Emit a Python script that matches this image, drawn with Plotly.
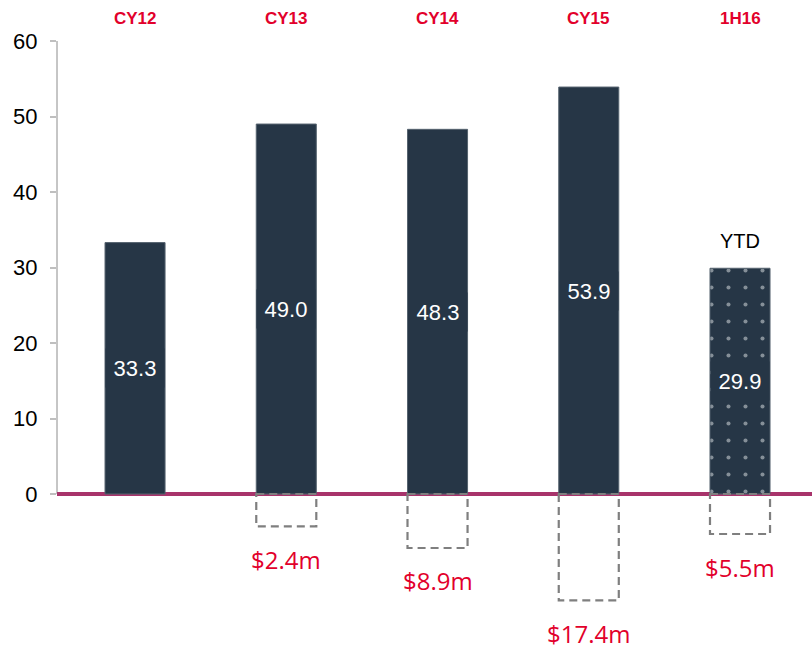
import plotly.graph_objects as go

categories = ["CY12", "CY13", "CY14", "CY15", "1H16"]
values = [33.3, 49.0, 48.3, 53.9, 29.9]
value_labels = ["33.3", "49.0", "48.3", "53.9", "29.9"]
neg_values = [None, -4.3, -7.15, -14.1, -5.3]
neg_labels = ["", "$2.4m", "$8.9m", "$17.4m", "$5.5m"]
ytd_note = "YTD"
y_ticks = [0, 10, 20, 30, 40, 50, 60]

BAR = "#263646"
RED = "#e2002b"
MAG = "#a8336b"
BW = 0.397
xs = list(range(len(categories)))

fig = go.Figure()
fig.add_trace(go.Bar(
    x=xs, y=values, width=BW,
    marker=dict(
        color=BAR,
        line=dict(color="#56636f", width=1),
        pattern=dict(shape=["", "", "", "", "."], fgcolor="#e4e7ea",
                     bgcolor=BAR, size=17, solidity=0.045, fillmode="overlay"),
    ),
    hoverinfo="skip", showlegend=False,
))

shapes = []
annotations = []
for i, (cat, v, lab, nv, nl) in enumerate(zip(categories, values, value_labels, neg_values, neg_labels)):
    annotations.append(dict(x=i, y=1, xref="x", yref="paper", yshift=23, yanchor="middle",
                            text=f"<b>{cat}</b>", showarrow=False,
                            font=dict(family="Liberation Sans", size=17, color=RED)))
    annotations.append(dict(x=i, y=v / 2, xref="x", yref="y", text=lab, showarrow=False,
                            bgcolor=BAR, width=56, height=36,
                            font=dict(family="Liberation Sans", size=22, color="white")))
    if nv is not None:
        shapes.append(dict(type="rect", xref="x", yref="y", x0=i - BW / 2, x1=i + BW / 2, y0=0, y1=nv,
                           line=dict(color="#7f7f7f", width=2.2, dash="8px,5px"), fillcolor="rgba(0,0,0,0)"))
        annotations.append(dict(x=i, y=nv, xref="x", yref="y", yshift=-33, yanchor="middle", text=nl,
                                showarrow=False, borderpad=0,
                                font=dict(family="Open Sans", size=24, color=RED)))

annotations.append(dict(x=len(values) - 1, y=values[-1], xref="x", yref="y", yshift=27, yanchor="middle",
                        text=ytd_note, showarrow=False,
                        font=dict(family="Liberation Sans", size=20, color="black")))

shapes.append(dict(type="line", xref="paper", yref="y", x0=0, x1=0, y0=0, y1=max(y_ticks),
                   line=dict(color="#8c8c8c", width=1), layer="below"))

fig.update_layout(
    width=812, height=645,
    margin=dict(l=57, r=0, t=41, b=0),
    plot_bgcolor="white", paper_bgcolor="white",
    shapes=shapes, annotations=annotations,
    xaxis=dict(range=[-0.516, 4.476], visible=False),
    yaxis=dict(range=[-20, 60], tickvals=y_ticks, ticks="outside", ticklen=6, tickcolor="#bfbfbf",
               tickwidth=1.5, showgrid=False, showline=False, zeroline=True, zerolinecolor=MAG,
               zerolinewidth=3.5, ticklabelstandoff=8,
               tickfont=dict(family="Liberation Sans", size=22, color="black")),
)

# remove the page's default body margin so the figure fills the window exactly
page_fix = ("document.body.style.margin='0';"
            "document.body.style.overflow='hidden';"
            "document.documentElement.style.overflow='hidden';")

fig.write_html("out.html", post_script=page_fix, config={"displayModeBar": False})
